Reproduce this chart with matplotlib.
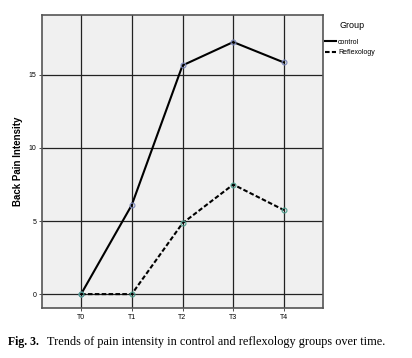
import numpy as np
import matplotlib.pyplot as plt
from matplotlib.lines import Line2D

times = ['T0', 'T1', 'T2', 'T3', 'T4']
control = [0.0, 6.1, 15.65, 17.25, 15.85]
reflexology = [0.0, 0.0, 4.85, 7.5, 5.75]
yticks = [0, 5, 10, 15]

plt.rcParams['font.family'] = ['Liberation Sans', 'DejaVu Sans']

fig = plt.figure(figsize=(4.12, 3.58), dpi=100)
ax = fig.add_axes([42 / 412, 1 - 308 / 358, 281 / 412, 293 / 358])
ax.set_facecolor('#f0f0f0')

x = np.arange(len(times))
ax.plot(x, control, color='black', lw=1.5, ls='-', marker='o', ms=3.5,
        mfc='none', mec='#7a86b8', mew=0.8, zorder=3)
ax.plot(x, reflexology, color='black', lw=1.5, ls=(0, (2.2, 1.1)), marker='o',
        ms=3.5, mfc='none', mec='#4f9e8e', mew=0.8, zorder=3)

ax.set_xlim(-0.77, 4.77)
ax.set_ylim(-0.95, 19.1)
ax.set_xticks(x)
ax.set_xticklabels(times)
ax.set_yticks(yticks)
ax.tick_params(labelsize=5, length=2.5, width=0.6, color='#333333', pad=1.5)
ax.grid(True, color='#222222', lw=0.9)
ax.set_axisbelow(True)
for s in ax.spines.values():
    s.set_color('#555555')
    s.set_linewidth(1.2)

ax.set_ylabel('Back Pain Intensity', fontsize=7, fontweight='bold', labelpad=4)

# legend title drawn on its own, entries below it
fig.text(339 / 412, 1 - 25 / 358, 'Group', fontsize=6.5, va='center')
handles = [Line2D([], [], color='black', lw=1.5, ls='-'),
           Line2D([], [], color='black', lw=1.5, ls=(0, (2.2, 1.1)))]
fig.legend(handles, ['control', 'Reflexology'],
           loc='upper left', bbox_to_anchor=(320 / 412, 1 - 34 / 358),
           frameon=False, fontsize=5,
           handlelength=1.6, handletextpad=0.3, labelspacing=0.45,
           borderpad=0.2)

fig.text(8 / 412, 1 - 342 / 358, 'Fig. 3.', fontsize=8.5, fontweight='bold',
         family='Liberation Serif', va='center')
fig.text(47 / 412, 1 - 342 / 358,
         'Trends of pain intensity in control and reflexology groups over time.',
         fontsize=8.8, family='Liberation Serif', va='center')

fig.savefig('out.png', dpi=100)
